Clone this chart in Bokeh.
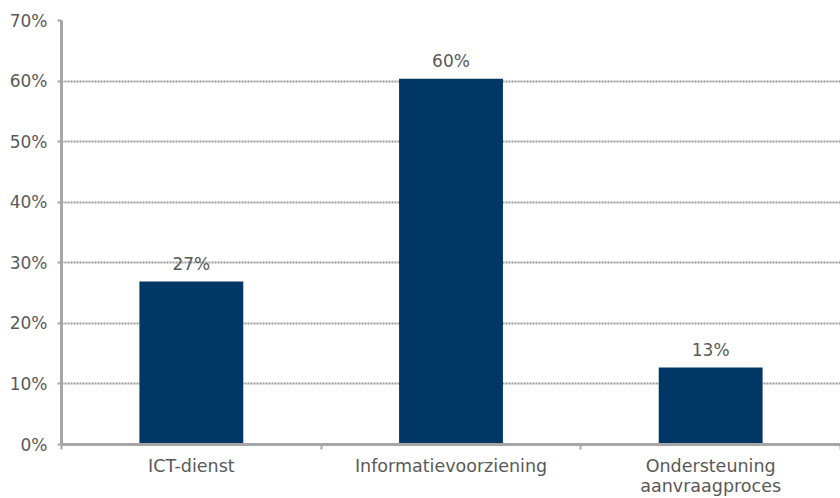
import numpy as np
from bokeh.plotting import figure
from bokeh.models import ColumnDataSource, FixedTicker, Range1d, NumeralTickFormatter
from bokeh.core.properties import value
from bokeh.embed import file_html
from bokeh.resources import INLINE

categories = ["ICT-dienst", "Informatievoorziening", "Ondersteuning\naanvraagproces"]
shares = [0.269, 0.604, 0.127]
y_ticks = [0.0, 0.1, 0.2, 0.3, 0.4, 0.5, 0.6, 0.7]

FONT = "DejaVu Sans"
TXT = "#595959"
AX = "#A6A6A6"

n = len(categories)
centers = list(np.arange(n) + 0.5)
labels = ["{:.0f}%".format(v * 100) for v in shares]
src = ColumnDataSource(dict(x=centers, top=shares, lab=labels))

p = figure(width=840, height=498, output_backend="svg", toolbar_location=None,
           x_range=Range1d(0, n), y_range=Range1d(0, 0.7),
           min_border_left=61, min_border_right=0, min_border_top=20, min_border_bottom=10)
p.outline_line_color = None
p.background_fill_color = "white"

p.vbar(x="x", top="top", width=0.4, source=src, fill_color="#003764", line_color=None)
p.text(x="x", y="top", text="lab", source=src, text_align="center", text_baseline="alphabetic",
       y_offset=-12, text_font=value(FONT), text_font_size="17px", text_color=TXT)
p.renderers[-1].glyph.y_offset = -18

# y axis
p.yaxis.ticker = FixedTicker(ticks=y_ticks)
p.yaxis.formatter = NumeralTickFormatter(format="0%")
p.yaxis.axis_line_color = AX
p.yaxis.axis_line_width = 3
p.yaxis.major_tick_line_color = AX
p.yaxis.major_tick_line_width = 2
p.yaxis.major_tick_out = 4
p.yaxis.major_tick_in = 0
p.yaxis.minor_tick_line_color = None
p.yaxis.major_label_text_font = FONT
p.yaxis.major_label_text_font_size = "17px"
p.yaxis.major_label_text_color = TXT
p.yaxis.major_label_standoff = 10

# x axis
p.xaxis.ticker = FixedTicker(ticks=centers, minor_ticks=list(np.arange(n + 1)))
p.xaxis.major_label_overrides = {float(c): cat for c, cat in zip(centers, categories)}
p.xaxis.axis_line_color = AX
p.xaxis.axis_line_width = 3
p.xaxis.major_tick_line_color = None
p.xaxis.minor_tick_line_color = AX
p.xaxis.minor_tick_line_width = 2
p.xaxis.minor_tick_out = 5
p.xaxis.minor_tick_in = 0
p.xaxis.major_label_text_font = FONT
p.xaxis.major_label_text_font_size = "17.5px"
p.xaxis.major_label_text_line_height = 1.0
p.xaxis.major_label_text_color = TXT
p.xaxis.major_label_standoff = 5

p.xgrid.grid_line_color = None
p.ygrid.ticker = FixedTicker(ticks=y_ticks[1:])
p.ygrid.grid_line_color = "#999999"
p.ygrid.grid_line_width = 2
p.ygrid.grid_line_dash = "2 1"

open("out.html", "w").write(file_html(p, INLINE))
